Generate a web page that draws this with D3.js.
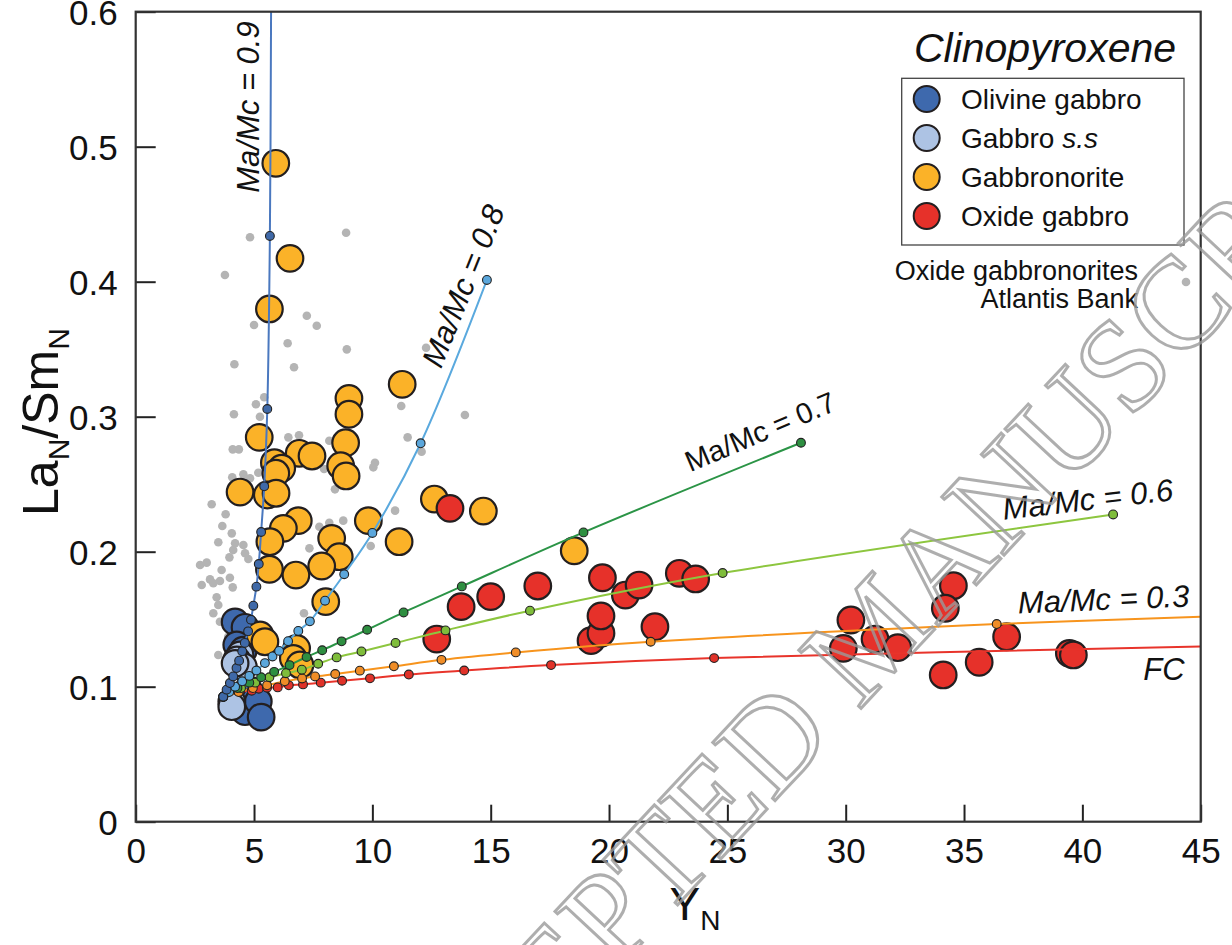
<!DOCTYPE html>
<html><head><meta charset="utf-8">
<script src="https://cdn.jsdelivr.net/npm/d3@7"></script>
<style>body{margin:0;background:#fff}svg{display:block}</style>
</head><body>
<svg id="c" width="1232" height="945"></svg>
<script>
// ---------- data ----------
const xTickValues=[0,5,10,15,20,25,30,35,40,45];
const yTickValues=[0,0.1,0.2,0.3,0.4,0.5,0.6];
const categories=["Olivine gabbro","Gabbro s.s","Gabbronorite","Oxide gabbro"];

const olivineGabbro=[[4.2,0.148],[4.62,0.144],[4.27,0.131],[4.55,0.127],[4.76,0.098],[4.41,0.088],[5.04,0.090],[4.62,0.0815],[5.18,0.089],[5.3,0.0775]];
const gabbroSS=[[4.41,0.1235],[4.27,0.1198],[4.55,0.1148],[4.2,0.1173],[4.06,0.0889],[4.06,0.0852]];
const gabbronorite=[[5.92,0.4877],[6.52,0.4173],[5.65,0.3798],[11.26,0.324],[9.01,0.3136],[9.01,0.3018],[5.22,0.2847],[8.87,0.2807],[6.91,0.2729],[7.45,0.2709],[5.86,0.2659],[6.17,0.2618],[5.92,0.2581],[8.66,0.2637],[8.89,0.2561],[4.41,0.2442],[5.56,0.242],[5.93,0.2433],[9.83,0.223],[6.87,0.223],[6.24,0.2173],[8.28,0.2099],[8.6,0.1963],[7.86,0.1894],[6.77,0.1827],[5.65,0.187],[5.67,0.2074],[8.03,0.163],[11.13,0.2074],[12.62,0.239],[14.69,0.2301],[18.53,0.2007],[5.25,0.1383],[5.46,0.1333],[6.8,0.1284],[6.66,0.121],[6.94,0.1161]];
const oxideGabbro=[[13.28,0.2321],[13.75,0.1593],[15.0,0.1667],[16.99,0.1746],[19.72,0.1807],[20.69,0.1679],[21.27,0.1753],[22.97,0.184],[23.66,0.1798],[19.24,0.1341],[19.66,0.1396],[19.66,0.1524],[21.94,0.1444],[12.72,0.1353],[34.55,0.1748],[34.21,0.1581],[30.22,0.1494],[29.9,0.1284],[31.24,0.1353],[32.2,0.1289],[36.8,0.137],[35.64,0.1181],[34.12,0.1087],[39.45,0.1247],[39.62,0.1235]];
const atlantisBank=[[4.83,0.4329],[8.89,0.4363],[3.77,0.405],[7.23,0.3748],[7.65,0.3674],[5.0,0.3679],[6.42,0.3544],[8.92,0.3499],[6.69,0.3366],[4.17,0.3388],[5.43,0.3144],[5.08,0.3092],[5.25,0.3],[4.15,0.3018],[11.22,0.3079],[6.45,0.2847],[6.9,0.2862],[11.49,0.2847],[4.1,0.2758],[4.36,0.2758],[8.18,0.2822],[10.11,0.2659],[10.04,0.2625],[7.96,0.2613],[4.55,0.2573],[4.83,0.2544],[5.18,0.2585],[4.08,0.2551],[3.21,0.2351],[3.8,0.2277],[3.66,0.219],[4.06,0.2136],[8.42,0.2462],[10.96,0.2304],[8.77,0.223],[8.18,0.2215],[7.76,0.2185],[12.08,0.2741],[12.27,0.3511],[13.91,0.3013],[3.49,0.207],[4.2,0.2062],[4.55,0.205],[4.12,0.2013],[3.96,0.1958],[4.76,0.1946],[2.72,0.1901],[3.0,0.1919],[3.63,0.1864],[3.14,0.1795],[3.28,0.1766],[3.56,0.1783],[2.79,0.1753],[3.98,0.1807],[4.1,0.1736],[3.42,0.1662],[3.49,0.1605],[3.28,0.1544],[7.34,0.2025],[9.93,0.2042],[7.11,0.1544],[3.49,0.1235],[3.91,0.137],[4.62,0.1988],[3.98,0.131],[3.56,0.1481]];

const curveFC=[[3.7,0.0926],[4.4,0.0965],[4.9,0.097],[5.2,0.0985],[5.55,0.0993],[6.0,0.0995],[6.47,0.101],[7.07,0.1017],[7.82,0.103],[8.72,0.1044],[9.9,0.1062],[11.54,0.109],[13.88,0.112],[17.55,0.116],[24.44,0.1212],[45,0.1298]];
const curve03=[[3.7,0.0926],[4.35,0.096],[4.95,0.099],[5.55,0.101],[6.3,0.104],[7.03,0.1061],[7.58,0.1076],[8.43,0.1094],[9.47,0.1119],[10.91,0.1151],[12.92,0.1199],[16.06,0.1254],[21.76,0.1333],[36.38,0.1464],[45,0.1519]];
const curve06=[[3.7,0.0926],[4.45,0.099],[5.05,0.103],[5.65,0.107],[6.35,0.11],[7.02,0.1126],[7.71,0.117],[8.49,0.1217],[9.54,0.1261],[10.98,0.1324],[13.09,0.1417],[16.66,0.1563],[24.8,0.1842],[41.3,0.2276]];
const curve07=[[3.7,0.0926],[4.3,0.099],[4.8,0.103],[5.3,0.107],[5.85,0.111],[6.5,0.116],[7.22,0.122],[7.88,0.127],[8.7,0.1336],[9.78,0.1422],[11.32,0.155],[13.78,0.1743],[18.92,0.2143],[28.11,0.2807]];
const curve08=[[3.7,0.0926],[3.95,0.096],[4.2,0.1],[4.5,0.104],[4.8,0.108],[5.1,0.112],[5.46,0.1175],[5.78,0.1224],[6.06,0.1265],[6.44,0.1337],[6.87,0.1413],[7.36,0.1484],[8.0,0.1637],[8.81,0.1833],[10.0,0.2139],[12.04,0.2803],[14.84,0.4013]];
const curve09=[[3.7,0.0926],[3.84,0.0978],[3.98,0.1027],[4.12,0.1076],[4.26,0.1138],[4.37,0.1193],[4.5,0.1262],[4.61,0.1324],[4.75,0.141],[4.87,0.1496],[4.97,0.16],[5.1,0.1741],[5.2,0.1909],[5.3,0.2146],[5.43,0.2484],[5.56,0.3057],[5.67,0.4339],[5.72,0.6],[5.73,0.63]];
const curveNames=["Ma/Mc = 0.9","Ma/Mc = 0.8","Ma/Mc = 0.7","Ma/Mc = 0.6","Ma/Mc = 0.3","FC"];

// ---------- setup ----------
const W=1232,H=945;
const L=135.7,T=11.7,R=1200.7,B=821.7;
const svg=d3.select("#c");
svg.append("rect").attr("width",W).attr("height",H).attr("fill","#fff");
const x=d3.scaleLinear().domain([0,45]).range([L,R]);
const y=d3.scaleLinear().domain([0,0.6]).range([B,T]);
const FONT="'Liberation Sans', Arial, Helvetica, sans-serif";

svg.append("clipPath").attr("id","clip").append("rect")
  .attr("x",L).attr("y",T).attr("width",R-L).attr("height",B-T);

// axes
const xAxis=d3.axisBottom(x).tickValues(xTickValues).tickSize(-17).tickPadding(16).tickFormat(d3.format("d"));
const gx=svg.append("g").attr("transform",`translate(0,${B})`).call(xAxis);
const yAxis=d3.axisLeft(y).tickValues(yTickValues).tickSize(-20).tickPadding(18).tickFormat(d=>d===0?"0":d3.format(".1f")(d));
const gy=svg.append("g").attr("transform",`translate(${L},0)`).call(yAxis);
[gx,gy].forEach(g=>{
  g.select(".domain").remove();
  g.selectAll(".tick line").attr("stroke","#222").attr("stroke-width",2);
  g.selectAll(".tick text").attr("font-family",FONT).attr("font-size",35).attr("fill","#111");
});
gy.selectAll(".tick text").attr("dy","0.36em");

// axis titles
const yl=svg.append("text").attr("transform","translate(58,422) rotate(-90)")
  .attr("text-anchor","middle").attr("font-family",FONT).attr("font-size",50).attr("fill","#111");
yl.append("tspan").text("La");
yl.append("tspan").text("N").attr("font-size",30).attr("dy",11);
yl.append("tspan").text("/Sm").attr("dy",-11);
yl.append("tspan").text("N").attr("font-size",30).attr("dy",11);

const xl=svg.append("text").attr("x",695).attr("y",920).attr("text-anchor","middle")
  .attr("font-family",FONT).attr("font-size",46).attr("fill","#111");
xl.append("tspan").text("Y");
xl.append("tspan").text("N").attr("font-size",28).attr("dy",10);

// ---------- data layers ----------
const plot=svg.append("g").attr("clip-path","url(#clip)");
plot.append("g").selectAll("circle").data(atlantisBank).join("circle")
  .attr("cx",d=>x(d[0])).attr("cy",d=>y(d[1])).attr("r",4.3).attr("fill","#b4b4b4");

const groups=[
  {data:olivineGabbro,fill:"#3e69ad"},
  {data:gabbroSS,fill:"#adc3e4"},
  {data:gabbronorite,fill:"#fbb228"},
  {data:oxideGabbro,fill:"#e6312a"}
];
groups.forEach(g=>{
  plot.append("g").selectAll("circle").data(g.data).join("circle")
    .attr("cx",d=>x(d[0])).attr("cy",d=>y(d[1])).attr("r",13.3)
    .attr("fill",g.fill).attr("stroke","#231f20").attr("stroke-width",2.2);
});

// model curves
const curves=[
  {data:curveFC,line:"#e8342b",mk:"#e03229"},
  {data:curve03,line:"#f7941d",mk:"#f08d27"},
  {data:curve06,line:"#8dc63f",mk:"#7fbd3b"},
  {data:curve07,line:"#2b9446",mk:"#2e8f41"},
  {data:curve08,line:"#5aa9de",mk:"#5ba7dc"},
  {data:curve09,line:"#4a78bf",mk:"#3f69a8"}
];
const lineGen=d3.line().x(d=>x(d[0])).y(d=>y(d[1])).curve(d3.curveCatmullRom.alpha(0.5));
curves.forEach(c=>{
  plot.append("path").datum(c.data).attr("d",lineGen).attr("fill","none")
    .attr("stroke",c.line).attr("stroke-width",2);
});
curves.forEach(c=>{
  plot.append("g").selectAll("circle").data(c.data.filter(d=>d[0]<45&&d[1]<0.6)).join("circle")
    .attr("cx",d=>x(d[0])).attr("cy",d=>y(d[1])).attr("r",4.4)
    .attr("fill",c.mk).attr("stroke","#222").attr("stroke-width",1.1);
});

// frame
svg.append("rect").attr("x",L).attr("y",T).attr("width",R-L).attr("height",B-T)
  .attr("fill","none").attr("stroke","#333").attr("stroke-width",2.2);

// curve labels
function lab(t,cx,cy,ang,italic,size){
  svg.append("text").attr("transform",`translate(${cx},${cy}) rotate(${ang})`)
    .attr("text-anchor","middle").attr("font-family",FONT).attr("font-size",size)
    .attr("font-style",italic?"italic":"normal").attr("fill","#111").text(t);
}
lab(curveNames[0],259,107,-90,true,31);
lab(curveNames[1],473,290,-68,true,31);
lab(curveNames[2],764,441,-23,false,29);
lab(curveNames[3],1089,510,-6.6,true,31);
lab(curveNames[4],1104,610,-2.4,true,31);
lab(curveNames[5],1164,680,0,true,31);

// legend
svg.append("text").attr("x",1045).attr("y",62).attr("text-anchor","middle")
  .attr("font-family",FONT).attr("font-size",41).attr("font-style","italic").attr("fill","#111").text("Clinopyroxene");
svg.append("rect").attr("x",901.7).attr("y",78.3).attr("width",282.3).attr("height",166.7)
  .attr("fill","#fff").attr("stroke","#444").attr("stroke-width",1.3);
const legY=d3.scalePoint().domain(categories).range([99,216]);
categories.forEach((c,i)=>{
  svg.append("circle").attr("cx",926.7).attr("cy",legY(c)).attr("r",13)
    .attr("fill",groups[i].fill).attr("stroke","#231f20").attr("stroke-width",2);
  const t=svg.append("text").attr("x",961).attr("y",legY(c)+10)
    .attr("font-family",FONT).attr("font-size",28).attr("fill","#111");
  if(c==="Gabbro s.s"){t.append("tspan").text("Gabbro ");t.append("tspan").attr("font-style","italic").text("s.s");}
  else t.text(c);
});
svg.append("text").attr("x",1138).attr("y",280).attr("text-anchor","end")
  .attr("font-family",FONT).attr("font-size",27).attr("fill","#111").text("Oxide gabbronorites");
svg.append("text").attr("x",1138).attr("y",308).attr("text-anchor","end")
  .attr("font-family",FONT).attr("font-size",27).attr("fill","#111").text("Atlantis Bank");
svg.append("circle").attr("cx",1186).attr("cy",282).attr("r",4.3).attr("fill","#b4b4b4");

// watermark
svg.append("text").attr("transform","translate(872,632) rotate(-47)")
  .attr("text-anchor","middle").attr("dominant-baseline","central")
  .attr("font-family","'Liberation Serif', 'Times New Roman', serif").attr("font-size",130)
  .attr("fill","none").attr("stroke","#9a9a9a").attr("stroke-opacity",0.8).attr("stroke-width",3)
  .text("ACCEPTED MANUSCRIPT");
</script>
</body></html>
